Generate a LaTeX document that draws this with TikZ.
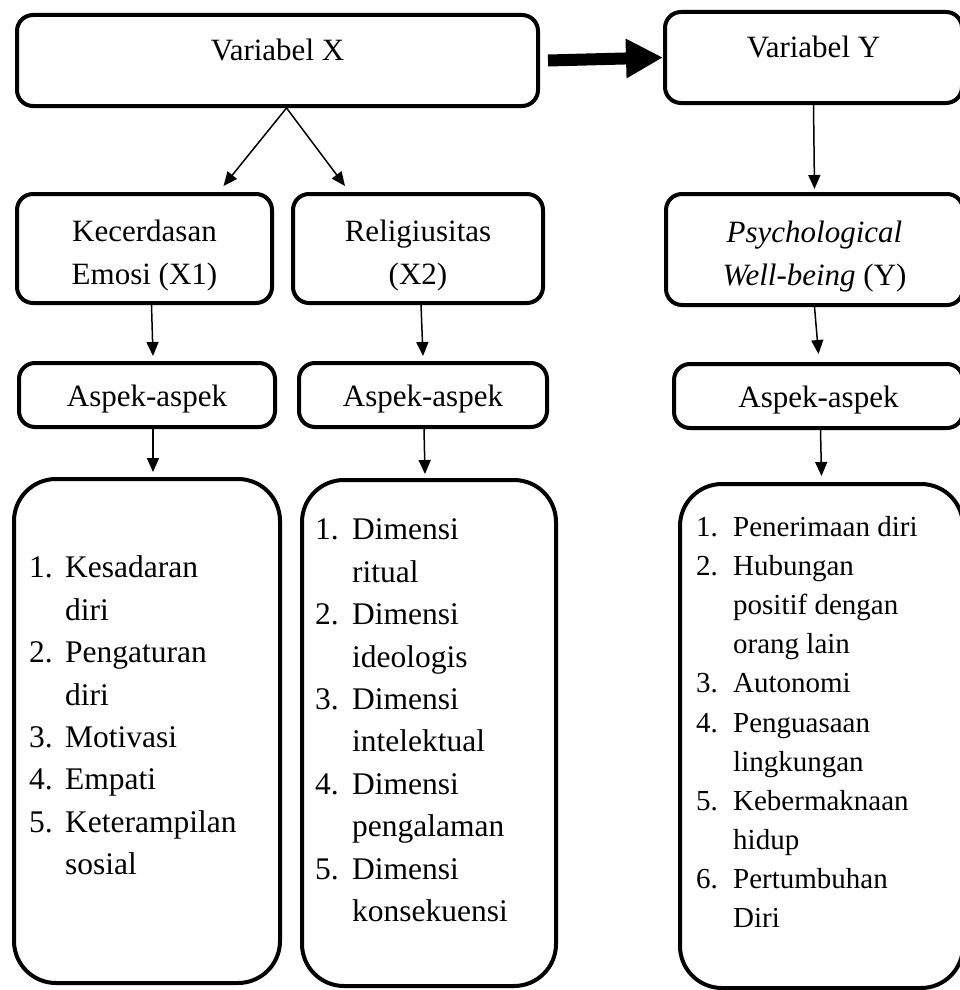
\documentclass[tikz,border=0pt]{standalone}
\usepackage{fontspec}
\setmainfont{Liberation Serif}
\usetikzlibrary{arrows.meta,positioning}

\begin{document}
\begin{tikzpicture}[x=1pt,y=-1pt,
		box/.style={draw,line width=4pt,rounded corners=16pt,inner sep=0pt,align=center,font=\fontsize{31}{42.5}\selectfont},
		bigbox/.style={draw,line width=4pt,rounded corners=42pt,inner sep=0pt},
		arr/.style={line width=1.5pt,-{Triangle[length=14pt,width=12pt]}},
		items/.style={inner sep=0pt,font=\fontsize{31.5}{42.4}\selectfont}]
	\useasboundingbox (0,0) rectangle (960,990);
	\node[box,minimum width=521pt,minimum height=91pt,text depth=21pt] (x0) at (277.5,60.5) {Variabel X};
	\node[box,minimum width=297pt,minimum height=91pt,text depth=21pt] (y0) at (813.5,57.5) {Variabel Y};
	\node[box,minimum width=255pt,minimum height=109pt] (x1) at (144.5,248.5) {\rule{0pt}{36pt}Kecerdasan\\Emosi (X1)};
	\node[box,minimum width=250pt,minimum height=109pt] (x2) at (418,248.5) {\rule{0pt}{36pt}Religiusitas\\(X2)};
	\node[box,minimum width=297pt,minimum height=111pt] (y1) at (814.5,249.5) {\rule{0pt}{36pt}\textit{Psychological}\\\textit{Well-being} (Y)};
	\node[box,minimum width=256pt,minimum height=64pt,text height=30pt] (a1) at (147,395) {Aspek-aspek};
	\node[box,minimum width=248pt,minimum height=64pt,text height=30pt] (a2) at (423,395) {Aspek-aspek};
	\node[box,minimum width=289pt,minimum height=64pt,text height=30pt] (a3) at (818.5,396) {Aspek-aspek};
	\node[bigbox,minimum width=266pt,minimum height=504pt] (l1) at (147,731) {};
	\node[bigbox,minimum width=254pt,minimum height=506pt] (l2) at (429,733) {};
	\node[bigbox,minimum width=283pt,minimum height=504pt] (l3) at (821.5,736) {};
	\node[items,below right=71pt and 17pt of l1.north west] (t1) {\begin{tabular}{@{}p{36pt}@{}l@{}}
		1.&Kesadaran\\&diri\\2.&Pengaturan\\&diri\\3.&Motivasi\\4.&Empati\\5.&Keterampilan\\&sosial\end{tabular}};
	\node[items,below right=32pt and 15pt of l2.north west] (t2) {\begin{tabular}{@{}p{37pt}@{}l@{}}
		1.&Dimensi\\&ritual\\2.&Dimensi\\&ideologis\\3.&Dimensi\\&intelektual\\4.&Dimensi\\&pengalaman\\5.&Dimensi\\&konsekuensi\end{tabular}};
	\node[items,font=\fontsize{29}{39.1}\selectfont,below right=27pt and 18pt of l3.north west] (t3) {\begin{tabular}{@{}p{37pt}@{}l@{}}
		1.&Penerimaan diri\\2.&Hubungan\\&positif dengan\\&orang lain\\3.&Autonomi\\4.&Penguasaan\\&lingkungan\\5.&Kebermaknaan\\&hidup\\6.&Pertumbuhan\\&Diri\end{tabular}};
	\draw[line width=12pt,-{Triangle[length=37pt 0 0,width=37pt 0 0]}] ([xshift=8pt]x0.east) -- (y0.west);
	\draw[arr] ([xshift=9pt]x0.south) -- ([xshift=79pt,yshift=6pt]x1.north);
	\draw[arr] ([xshift=9pt]x0.south) -- ([xshift=-73pt,yshift=6pt]x2.north);
	\draw[arr] (y0.south) -- ([yshift=3pt]y1.north);
	\draw[arr] ([xshift=7pt]x1.south) -- ([xshift=6pt,yshift=5pt]a1.north);
	\draw[arr] ([xshift=3pt]x2.south) -- ([yshift=5pt]a2.north);
	\draw[arr] (y1.south) -- ([yshift=8pt]a3.north);
	\draw[arr] ([xshift=6pt]a1.south) -- ([xshift=6pt,yshift=5pt]l1.north);
	\draw[arr] ([xshift=1pt]a2.south) -- ([xshift=-4pt,yshift=4pt]l2.north);
	\draw[arr] ([xshift=2pt]a3.south) -- ([yshift=6pt]l3.north);
\end{tikzpicture}
\end{document}
